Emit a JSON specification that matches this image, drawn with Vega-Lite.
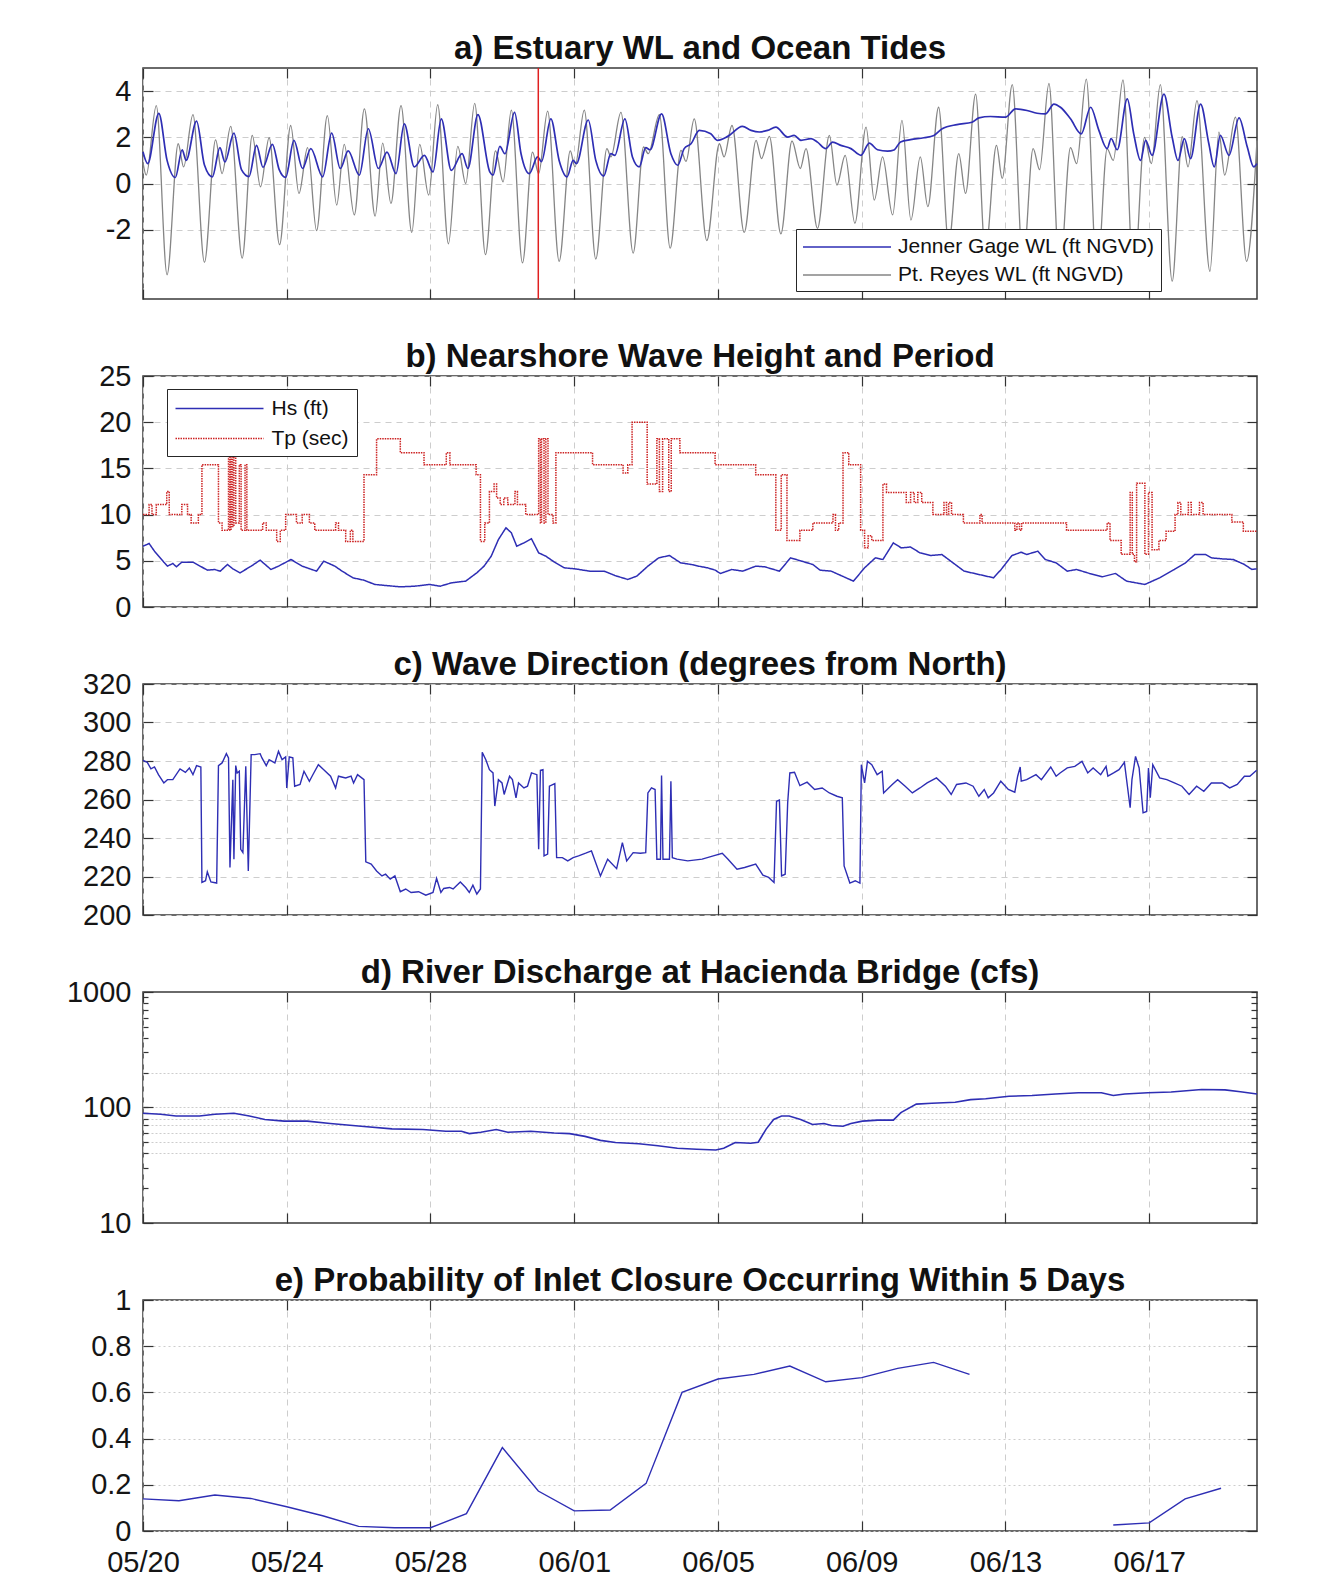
{
"$schema": "https://vega.github.io/schema/vega-lite/v6.json",
"padding": {"left": 64, "top": 32, "right": 20, "bottom": 5},
"background": "white",
"spacing": 22,
"resolve": {"scale": {"color": "independent", "strokeDash": "independent"}, "legend": {"color": "independent", "strokeDash": "independent"}},
"datasets": {
"pr": [
{"day":0.00,"v":0.9},{"day":0.09,"v":0.36},{"day":0.37,"v":3.37},{"day":0.67,"v":-3.95},{"day":0.98,"v":1.72},{"day":1.13,"v":0.72},{"day":1.39,"v":2.98},{"day":1.71,"v":-3.41},{"day":2.02,"v":1.89},{"day":2.20,"v":0.43},{"day":2.44,"v":2.47},{"day":2.76,"v":-3.23},{"day":3.04,"v":2.08},{"day":3.27,"v":-0.14},{"day":3.51,"v":1.98},{"day":3.80,"v":-2.65},{"day":4.11,"v":2.51},{"day":4.34,"v":-0.43},{"day":4.58,"v":1.55},{"day":4.83,"v":-2.04},{"day":5.13,"v":2.94},{"day":5.39,"v":-0.93},{"day":5.60,"v":1.69},{"day":5.88,"v":-1.36},{"day":6.16,"v":3.23},{"day":6.46,"v":-1.41},{"day":6.67,"v":1.75},{"day":6.90,"v":-0.86},{"day":7.18,"v":3.37},{"day":7.48,"v":-2.12},{"day":7.70,"v":1.69},{"day":7.95,"v":-0.50},{"day":8.20,"v":3.41},{"day":8.50,"v":-2.61},{"day":8.76,"v":1.61},{"day":8.98,"v":0.0},{"day":9.23,"v":3.47},{"day":9.53,"v":-3.08},{"day":9.81,"v":1.41},{"day":10.02,"v":0.07},{"day":10.25,"v":3.18},{"day":10.56,"v":-3.44},{"day":10.84,"v":1.36},{"day":11.01,"v":0.43},{"day":11.26,"v":3.13},{"day":11.58,"v":-3.37},{"day":11.89,"v":1.41},{"day":12.02,"v":0.72},{"day":12.28,"v":3.18},{"day":12.60,"v":-3.27},{"day":12.91,"v":1.51},{"day":13.02,"v":1.15},{"day":13.30,"v":3.08},{"day":13.64,"v":-3.01},{"day":13.93,"v":1.58},{"day":14.06,"v":1.29},{"day":14.37,"v":2.98},{"day":14.67,"v":-2.80},{"day":14.97,"v":1.43},{"day":15.11,"v":0.96},{"day":15.34,"v":2.80},{"day":15.69,"v":-2.47},{"day":16.04,"v":1.72},{"day":16.17,"v":1.15},{"day":16.39,"v":2.51},{"day":16.73,"v":-2.12},{"day":17.06,"v":1.87},{"day":17.21,"v":1.08},{"day":17.43,"v":2.04},{"day":17.75,"v":-2.18},{"day":18.06,"v":1.84},{"day":18.29,"v":0.65},{"day":18.45,"v":1.51},{"day":18.77,"v":-1.94},{"day":19.10,"v":2.08},{"day":19.31,"v":-0.07},{"day":19.54,"v":1.22},{"day":19.81,"v":-1.72},{"day":20.12,"v":2.44},{"day":20.35,"v":-0.72},{"day":20.58,"v":1.15},{"day":20.86,"v":-1.36},{"day":21.12,"v":2.73},{"day":21.37,"v":-1.58},{"day":21.63,"v":1.15},{"day":21.84,"v":-1.0},{"day":22.14,"v":3.30},{"day":22.42,"v":-2.6},{"day":22.70,"v":1.29},{"day":22.89,"v":-0.43},{"day":23.17,"v":3.87},{"day":23.44,"v":-3.0},{"day":23.75,"v":1.65},{"day":23.91,"v":0.22},{"day":24.19,"v":4.28},{"day":24.49,"v":-3.5},{"day":24.77,"v":1.51},{"day":24.95,"v":0.6},{"day":25.21,"v":4.33},{"day":25.51,"v":-3.9},{"day":25.81,"v":1.55},{"day":25.98,"v":0.86},{"day":26.25,"v":4.52},{"day":26.55,"v":-4.1},{"day":26.83,"v":1.5},{"day":27.00,"v":1.0},{"day":27.27,"v":4.48},{"day":27.57,"v":-4.3},{"day":27.87,"v":2.0},{"day":28.06,"v":0.86},{"day":28.31,"v":4.28},{"day":28.64,"v":-4.23},{"day":28.92,"v":2.03},{"day":29.08,"v":0.72},{"day":29.33,"v":3.59},{"day":29.69,"v":-3.80},{"day":29.94,"v":2.22},{"day":30.10,"v":0.36},{"day":30.40,"v":2.87},{"day":30.71,"v":-3.37},{"day":31.00,"v":1.86}
],
"jg": [
{"day":0.00,"v":1.36},{"day":0.13,"v":0.86},{"day":0.44,"v":3.04},{"day":0.67,"v":1.0},{"day":0.90,"v":0.26},{"day":1.09,"v":1.46},{"day":1.20,"v":1.0},{"day":1.49,"v":2.70},{"day":1.71,"v":0.8},{"day":1.93,"v":0.29},{"day":2.14,"v":1.55},{"day":2.28,"v":0.93},{"day":2.53,"v":2.18},{"day":2.74,"v":0.6},{"day":2.95,"v":0.3},{"day":3.16,"v":1.65},{"day":3.34,"v":0.7},{"day":3.60,"v":1.69},{"day":3.79,"v":0.6},{"day":3.97,"v":0.26},{"day":4.20,"v":1.87},{"day":4.44,"v":0.65},{"day":4.67,"v":1.51},{"day":5.00,"v":0.29},{"day":5.25,"v":2.18},{"day":5.49,"v":0.65},{"day":5.71,"v":1.41},{"day":6.02,"v":0.36},{"day":6.27,"v":2.37},{"day":6.55,"v":0.65},{"day":6.79,"v":1.36},{"day":7.04,"v":0.43},{"day":7.27,"v":2.58},{"day":7.55,"v":0.72},{"day":7.83,"v":1.22},{"day":8.07,"v":0.5},{"day":8.30,"v":2.80},{"day":8.58,"v":0.57},{"day":8.88,"v":1.29},{"day":9.04,"v":0.65},{"day":9.32,"v":2.98},{"day":9.65,"v":0.5},{"day":9.74,"v":0.36},{"day":9.93,"v":1.61},{"day":10.07,"v":1.29},{"day":10.34,"v":3.08},{"day":10.52,"v":1.29},{"day":10.75,"v":0.43},{"day":10.98,"v":1.15},{"day":11.09,"v":0.95},{"day":11.35,"v":2.80},{"day":11.58,"v":1.0},{"day":11.80,"v":0.29},{"day":11.97,"v":1.0},{"day":12.06,"v":0.86},{"day":12.39,"v":2.75},{"day":12.60,"v":1.0},{"day":12.82,"v":0.32},{"day":13.02,"v":1.29},{"day":13.13,"v":1.22},{"day":13.41,"v":2.80},{"day":13.62,"v":1.15},{"day":13.81,"v":0.72},{"day":13.99,"v":1.55},{"day":14.11,"v":1.46},{"day":14.43,"v":3.01},{"day":14.69,"v":1.29},{"day":14.88,"v":0.79},{"day":15.06,"v":1.51},{"day":15.25,"v":1.72},{"day":15.48,"v":2.30},{"day":15.80,"v":2.15},{"day":15.99,"v":1.87},{"day":16.27,"v":2.04},{"day":16.68,"v":2.47},{"day":16.92,"v":2.30},{"day":17.15,"v":2.23},{"day":17.38,"v":2.30},{"day":17.61,"v":2.44},{"day":17.94,"v":2.01},{"day":18.12,"v":2.08},{"day":18.31,"v":1.87},{"day":18.59,"v":1.94},{"day":18.77,"v":1.79},{"day":19.00,"v":1.51},{"day":19.19,"v":1.79},{"day":19.42,"v":1.65},{"day":19.70,"v":1.51},{"day":19.98,"v":1.22},{"day":20.21,"v":1.75},{"day":20.44,"v":1.46},{"day":20.72,"v":1.40},{"day":20.90,"v":1.45},{"day":21.08,"v":1.80},{"day":21.36,"v":1.90},{"day":21.73,"v":1.98},{"day":22.01,"v":2.08},{"day":22.24,"v":2.37},{"day":22.65,"v":2.55},{"day":23.07,"v":2.65},{"day":23.26,"v":2.84},{"day":23.58,"v":2.90},{"day":24.00,"v":2.87},{"day":24.28,"v":3.23},{"day":24.60,"v":3.16},{"day":24.88,"v":3.04},{"day":25.11,"v":3.01},{"day":25.35,"v":3.44},{"day":25.53,"v":3.30},{"day":25.81,"v":2.80},{"day":26.11,"v":2.15},{"day":26.37,"v":3.30},{"day":26.60,"v":2.30},{"day":26.83,"v":1.51},{"day":26.94,"v":1.94},{"day":27.11,"v":1.46},{"day":27.39,"v":3.66},{"day":27.57,"v":2.15},{"day":27.76,"v":1.0},{"day":27.90,"v":1.87},{"day":28.08,"v":1.22},{"day":28.41,"v":3.87},{"day":28.64,"v":2.0},{"day":28.80,"v":1.0},{"day":28.98,"v":1.94},{"day":29.15,"v":1.08},{"day":29.43,"v":3.44},{"day":29.66,"v":1.72},{"day":29.81,"v":0.72},{"day":29.98,"v":2.08},{"day":30.22,"v":1.22},{"day":30.50,"v":2.84},{"day":30.73,"v":1.58},{"day":30.91,"v":0.72},{"day":31.00,"v":0.86}
],
"hs": [
{"day":0,"v":6.58},{"day":0.17,"v":6.87},{"day":0.32,"v":6.04},{"day":0.58,"v":4.85},{"day":0.68,"v":4.42},{"day":0.83,"v":4.71},{"day":0.93,"v":4.35},{"day":1.08,"v":4.85},{"day":1.39,"v":4.85},{"day":1.79,"v":3.99},{"day":1.99,"v":4.06},{"day":2.15,"v":3.88},{"day":2.35,"v":4.60},{"day":2.50,"v":4.13},{"day":2.70,"v":3.70},{"day":3.01,"v":4.42},{"day":3.26,"v":5.07},{"day":3.56,"v":4.06},{"day":3.77,"v":4.42},{"day":4.12,"v":5.14},{"day":4.43,"v":4.42},{"day":4.83,"v":3.88},{"day":5.03,"v":4.96},{"day":5.34,"v":4.42},{"day":5.54,"v":3.88},{"day":5.84,"v":3.16},{"day":6.15,"v":2.90},{"day":6.45,"v":2.44},{"day":6.75,"v":2.33},{"day":7.16,"v":2.18},{"day":7.56,"v":2.25},{"day":7.97,"v":2.44},{"day":8.27,"v":2.25},{"day":8.58,"v":2.61},{"day":8.98,"v":2.80},{"day":9.29,"v":3.70},{"day":9.49,"v":4.42},{"day":9.69,"v":5.50},{"day":9.89,"v":7.30},{"day":10.10,"v":8.57},{"day":10.25,"v":8.03},{"day":10.40,"v":6.58},{"day":10.60,"v":6.94},{"day":10.81,"v":7.38},{"day":11.01,"v":5.86},{"day":11.21,"v":5.50},{"day":11.41,"v":4.96},{"day":11.72,"v":4.24},{"day":12.02,"v":4.13},{"day":12.43,"v":3.88},{"day":12.83,"v":3.88},{"day":13.13,"v":3.41},{"day":13.49,"v":2.98},{"day":13.74,"v":3.34},{"day":14.05,"v":4.42},{"day":14.35,"v":5.32},{"day":14.65,"v":5.57},{"day":14.96,"v":4.78},{"day":15.26,"v":4.60},{"day":15.46,"v":4.42},{"day":15.71,"v":4.24},{"day":15.92,"v":3.99},{"day":16.07,"v":3.63},{"day":16.38,"v":4.06},{"day":16.69,"v":3.88},{"day":17.05,"v":4.42},{"day":17.30,"v":4.35},{"day":17.71,"v":3.88},{"day":18.02,"v":5.32},{"day":18.33,"v":4.96},{"day":18.64,"v":4.60},{"day":18.84,"v":3.99},{"day":19.15,"v":3.88},{"day":19.46,"v":3.34},{"day":19.77,"v":2.80},{"day":20.08,"v":4.24},{"day":20.38,"v":5.32},{"day":20.59,"v":5.14},{"day":20.88,"v":6.94},{"day":21.10,"v":6.40},{"day":21.36,"v":6.49},{"day":21.62,"v":5.86},{"day":21.92,"v":5.57},{"day":22.23,"v":5.68},{"day":22.54,"v":4.78},{"day":22.85,"v":3.88},{"day":23.26,"v":3.52},{"day":23.67,"v":3.16},{"day":23.88,"v":4.06},{"day":24.18,"v":5.57},{"day":24.44,"v":5.93},{"day":24.59,"v":5.68},{"day":24.90,"v":6.04},{"day":25.11,"v":5.14},{"day":25.41,"v":4.78},{"day":25.72,"v":3.88},{"day":25.98,"v":4.06},{"day":26.34,"v":3.63},{"day":26.70,"v":3.27},{"day":27.06,"v":3.63},{"day":27.37,"v":2.80},{"day":27.88,"v":2.44},{"day":28.29,"v":3.16},{"day":28.70,"v":4.06},{"day":29.01,"v":4.78},{"day":29.27,"v":5.68},{"day":29.57,"v":5.68},{"day":29.73,"v":5.32},{"day":30.03,"v":5.21},{"day":30.34,"v":5.14},{"day":30.65,"v":4.60},{"day":30.86,"v":4.06},{"day":30.99,"v":4.13}
],
"tp": [
{"day":0.00,"v":10.0},{"day":0.17,"v":11.1},{"day":0.25,"v":10.0},{"day":0.37,"v":11.1},{"day":0.66,"v":12.5},{"day":0.73,"v":10.0},{"day":1.08,"v":11.1},{"day":1.24,"v":10.0},{"day":1.34,"v":9.1},{"day":1.54,"v":10.0},{"day":1.64,"v":15.4},{"day":2.10,"v":9.1},{"day":2.20,"v":8.3},{"day":2.38,"v":16.7},{"day":2.42,"v":8.3},{"day":2.45,"v":18.2},{"day":2.49,"v":8.7},{"day":2.53,"v":16.7},{"day":2.58,"v":9.1},{"day":2.68,"v":15.4},{"day":2.73,"v":8.3},{"day":2.84,"v":15.4},{"day":2.89,"v":8.3},{"day":3.33,"v":9.1},{"day":3.43,"v":8.3},{"day":3.72,"v":7.1},{"day":3.82,"v":8.3},{"day":3.97,"v":10.0},{"day":4.27,"v":9.1},{"day":4.43,"v":10.0},{"day":4.63,"v":9.1},{"day":4.78,"v":8.3},{"day":5.36,"v":9.1},{"day":5.44,"v":8.3},{"day":5.64,"v":7.1},{"day":5.77,"v":8.3},{"day":5.84,"v":7.1},{"day":6.15,"v":14.3},{"day":6.50,"v":18.2},{"day":7.16,"v":16.7},{"day":7.82,"v":15.4},{"day":8.44,"v":16.7},{"day":8.54,"v":15.4},{"day":9.27,"v":14.3},{"day":9.39,"v":7.1},{"day":9.51,"v":9.1},{"day":9.64,"v":12.5},{"day":9.77,"v":13.3},{"day":9.84,"v":11.8},{"day":9.94,"v":11.1},{"day":10.04,"v":11.8},{"day":10.15,"v":11.1},{"day":10.35,"v":12.5},{"day":10.42,"v":11.1},{"day":10.65,"v":10.0},{"day":11.01,"v":18.2},{"day":11.06,"v":9.1},{"day":11.09,"v":18.2},{"day":11.16,"v":9.1},{"day":11.21,"v":18.2},{"day":11.27,"v":10.0},{"day":11.41,"v":9.1},{"day":11.49,"v":16.7},{"day":12.51,"v":15.4},{"day":13.36,"v":14.5},{"day":13.49,"v":15.4},{"day":13.61,"v":20.0},{"day":14.03,"v":13.3},{"day":14.30,"v":18.2},{"day":14.37,"v":12.5},{"day":14.46,"v":18.2},{"day":14.63,"v":12.5},{"day":14.70,"v":18.2},{"day":14.94,"v":16.7},{"day":15.92,"v":15.4},{"day":17.05,"v":14.3},{"day":17.61,"v":8.3},{"day":17.76,"v":14.3},{"day":17.92,"v":7.2},{"day":18.28,"v":8.3},{"day":18.64,"v":9.1},{"day":19.20,"v":10.0},{"day":19.27,"v":8.3},{"day":19.36,"v":9.1},{"day":19.48,"v":16.7},{"day":19.64,"v":15.4},{"day":19.97,"v":8.3},{"day":20.08,"v":6.4},{"day":20.18,"v":7.7},{"day":20.28,"v":7.2},{"day":20.59,"v":13.3},{"day":20.69,"v":12.4},{"day":21.24,"v":11.3},{"day":21.36,"v":12.4},{"day":21.46,"v":11.3},{"day":21.56,"v":12.4},{"day":21.67,"v":11.3},{"day":21.98,"v":10.0},{"day":22.29,"v":11.3},{"day":22.36,"v":10.0},{"day":22.42,"v":11.3},{"day":22.50,"v":10.0},{"day":22.83,"v":9.1},{"day":23.29,"v":10.0},{"day":23.35,"v":9.1},{"day":24.26,"v":8.3},{"day":24.32,"v":9.1},{"day":24.39,"v":8.3},{"day":24.45,"v":9.1},{"day":25.70,"v":8.3},{"day":26.83,"v":9.1},{"day":26.91,"v":7.2},{"day":27.22,"v":5.7},{"day":27.47,"v":12.4},{"day":27.53,"v":5.7},{"day":27.59,"v":4.9},{"day":27.65,"v":13.4},{"day":27.88,"v":5.7},{"day":27.98,"v":12.4},{"day":28.08,"v":6.2},{"day":28.27,"v":7.2},{"day":28.47,"v":8.2},{"day":28.72,"v":10.0},{"day":28.80,"v":11.3},{"day":28.88,"v":10.0},{"day":29.09,"v":11.3},{"day":29.17,"v":10.0},{"day":29.40,"v":11.3},{"day":29.50,"v":10.0},{"day":30.30,"v":9.2},{"day":30.62,"v":8.2},{"day":31.00,"v":8.2}
],
"wd": [
{"day":0.00,"v":280.3},{"day":0.12,"v":279.3},{"day":0.22,"v":275.9},{"day":0.32,"v":276.9},{"day":0.43,"v":272.9},{"day":0.58,"v":268.6},{"day":0.68,"v":270.3},{"day":0.83,"v":270.3},{"day":1.03,"v":275.9},{"day":1.18,"v":274.1},{"day":1.29,"v":276.4},{"day":1.39,"v":272.9},{"day":1.49,"v":277.6},{"day":1.61,"v":276.9},{"day":1.64,"v":216.9},{"day":1.74,"v":217.8},{"day":1.79,"v":222.4},{"day":1.89,"v":217.2},{"day":2.05,"v":216.6},{"day":2.10,"v":277.6},{"day":2.20,"v":279.0},{"day":2.32,"v":283.8},{"day":2.38,"v":281.6},{"day":2.42,"v":224.7},{"day":2.50,"v":270.3},{"day":2.53,"v":229.0},{"day":2.58,"v":277.6},{"day":2.62,"v":273.8},{"day":2.68,"v":274.7},{"day":2.72,"v":234.1},{"day":2.78,"v":232.4},{"day":2.86,"v":277.2},{"day":2.93,"v":222.9},{"day":3.01,"v":283.3},{"day":3.11,"v":283.3},{"day":3.26,"v":283.8},{"day":3.31,"v":281.6},{"day":3.43,"v":277.6},{"day":3.51,"v":280.7},{"day":3.67,"v":279.0},{"day":3.77,"v":285.0},{"day":3.87,"v":280.7},{"day":3.97,"v":282.1},{"day":4.00,"v":266.0},{"day":4.07,"v":282.1},{"day":4.17,"v":281.6},{"day":4.22,"v":266.9},{"day":4.37,"v":267.8},{"day":4.48,"v":274.7},{"day":4.63,"v":269.5},{"day":4.73,"v":273.0},{"day":4.88,"v":278.1},{"day":5.03,"v":275.5},{"day":5.22,"v":272.1},{"day":5.36,"v":266.0},{"day":5.44,"v":272.1},{"day":5.64,"v":271.2},{"day":5.79,"v":272.1},{"day":5.86,"v":268.6},{"day":5.97,"v":272.9},{"day":6.15,"v":270.3},{"day":6.20,"v":227.6},{"day":6.35,"v":226.4},{"day":6.50,"v":222.9},{"day":6.65,"v":220.3},{"day":6.75,"v":221.2},{"day":6.88,"v":218.6},{"day":7.01,"v":220.3},{"day":7.16,"v":212.1},{"day":7.31,"v":213.5},{"day":7.46,"v":211.7},{"day":7.67,"v":212.1},{"day":7.87,"v":210.3},{"day":8.07,"v":211.7},{"day":8.17,"v":219.0},{"day":8.29,"v":211.7},{"day":8.37,"v":213.8},{"day":8.53,"v":214.3},{"day":8.63,"v":213.5},{"day":8.83,"v":217.2},{"day":8.98,"v":214.3},{"day":9.08,"v":211.7},{"day":9.18,"v":215.5},{"day":9.29,"v":210.9},{"day":9.39,"v":213.5},{"day":9.44,"v":284.5},{"day":9.54,"v":280.7},{"day":9.64,"v":275.5},{"day":9.74,"v":273.8},{"day":9.79,"v":256.6},{"day":9.89,"v":270.3},{"day":9.99,"v":268.6},{"day":10.05,"v":262.6},{"day":10.20,"v":272.1},{"day":10.28,"v":270.3},{"day":10.38,"v":260.9},{"day":10.45,"v":268.6},{"day":10.60,"v":266.0},{"day":10.70,"v":266.9},{"day":10.81,"v":273.8},{"day":10.96,"v":272.9},{"day":11.01,"v":234.1},{"day":11.06,"v":275.2},{"day":11.13,"v":275.5},{"day":11.16,"v":230.7},{"day":11.26,"v":231.6},{"day":11.31,"v":266.9},{"day":11.46,"v":268.3},{"day":11.51,"v":229.8},{"day":11.67,"v":229.8},{"day":11.82,"v":228.1},{"day":11.97,"v":229.8},{"day":12.12,"v":230.7},{"day":12.32,"v":232.1},{"day":12.48,"v":233.3},{"day":12.58,"v":228.1},{"day":12.73,"v":220.3},{"day":12.93,"v":229.0},{"day":13.18,"v":224.1},{"day":13.34,"v":237.6},{"day":13.46,"v":228.1},{"day":13.64,"v":232.4},{"day":13.84,"v":232.1},{"day":13.99,"v":232.4},{"day":14.05,"v":263.4},{"day":14.15,"v":266.0},{"day":14.25,"v":265.2},{"day":14.30,"v":229.0},{"day":14.40,"v":229.0},{"day":14.43,"v":272.4},{"day":14.47,"v":229.0},{"day":14.65,"v":229.0},{"day":14.69,"v":269.5},{"day":14.73,"v":229.8},{"day":14.86,"v":229.0},{"day":15.16,"v":228.1},{"day":15.56,"v":229.0},{"day":15.87,"v":230.7},{"day":16.12,"v":232.1},{"day":16.28,"v":229.0},{"day":16.53,"v":223.8},{"day":16.74,"v":224.7},{"day":17.05,"v":226.4},{"day":17.25,"v":220.7},{"day":17.41,"v":219.5},{"day":17.56,"v":216.9},{"day":17.63,"v":259.1},{"day":17.71,"v":259.7},{"day":17.77,"v":220.3},{"day":17.87,"v":221.2},{"day":17.94,"v":258.3},{"day":18.00,"v":273.8},{"day":18.13,"v":274.1},{"day":18.28,"v":267.2},{"day":18.48,"v":269.0},{"day":18.69,"v":265.2},{"day":18.90,"v":266.0},{"day":19.10,"v":263.4},{"day":19.31,"v":261.7},{"day":19.46,"v":260.9},{"day":19.51,"v":225.5},{"day":19.67,"v":216.6},{"day":19.82,"v":217.8},{"day":19.95,"v":216.6},{"day":19.99,"v":278.1},{"day":20.08,"v":268.6},{"day":20.16,"v":279.8},{"day":20.28,"v":278.1},{"day":20.43,"v":272.9},{"day":20.57,"v":274.7},{"day":20.61,"v":263.4},{"day":20.85,"v":267.8},{"day":21.00,"v":270.3},{"day":21.21,"v":266.9},{"day":21.41,"v":263.4},{"day":21.62,"v":266.0},{"day":21.82,"v":268.6},{"day":22.08,"v":271.2},{"day":22.33,"v":266.9},{"day":22.49,"v":262.6},{"day":22.64,"v":267.8},{"day":22.90,"v":268.6},{"day":23.10,"v":266.9},{"day":23.26,"v":261.7},{"day":23.41,"v":265.2},{"day":23.52,"v":260.9},{"day":23.67,"v":263.4},{"day":23.87,"v":269.5},{"day":24.08,"v":265.2},{"day":24.26,"v":263.8},{"day":24.34,"v":272.1},{"day":24.41,"v":276.9},{"day":24.44,"v":269.5},{"day":24.59,"v":270.3},{"day":24.85,"v":272.9},{"day":25.00,"v":270.3},{"day":25.26,"v":276.9},{"day":25.41,"v":272.1},{"day":25.52,"v":273.8},{"day":25.72,"v":276.4},{"day":25.93,"v":277.2},{"day":26.13,"v":279.8},{"day":26.29,"v":273.8},{"day":26.44,"v":276.4},{"day":26.65,"v":272.9},{"day":26.80,"v":277.2},{"day":26.85,"v":272.1},{"day":27.01,"v":273.8},{"day":27.16,"v":275.5},{"day":27.31,"v":279.3},{"day":27.47,"v":255.7},{"day":27.52,"v":270.3},{"day":27.62,"v":282.4},{"day":27.72,"v":276.4},{"day":27.83,"v":253.1},{"day":27.93,"v":253.8},{"day":27.98,"v":276.4},{"day":28.03,"v":260.9},{"day":28.10,"v":278.1},{"day":28.29,"v":271.2},{"day":28.49,"v":270.3},{"day":28.70,"v":268.6},{"day":28.91,"v":266.9},{"day":29.11,"v":262.6},{"day":29.32,"v":266.9},{"day":29.52,"v":264.3},{"day":29.73,"v":268.6},{"day":30.03,"v":268.6},{"day":30.24,"v":266.0},{"day":30.45,"v":267.8},{"day":30.65,"v":272.1},{"day":30.80,"v":272.1},{"day":30.99,"v":275.2}
],
"q": [
{"day":0,"v":89.1},{"day":0.49,"v":87.4},{"day":0.92,"v":84.4},{"day":1.57,"v":84.4},{"day":2.00,"v":87.4},{"day":2.53,"v":89.1},{"day":2.96,"v":84.4},{"day":3.39,"v":78.8},{"day":3.93,"v":76.2},{"day":4.57,"v":76.2},{"day":5.21,"v":72.7},{"day":6.07,"v":68.9},{"day":6.93,"v":65.3},{"day":7.79,"v":64.4},{"day":8.43,"v":62.3},{"day":8.86,"v":62.3},{"day":9.08,"v":59.4},{"day":9.40,"v":61.0},{"day":9.83,"v":64.4},{"day":10.15,"v":61.0},{"day":10.79,"v":62.3},{"day":11.44,"v":60.2},{"day":11.87,"v":59.4},{"day":12.30,"v":56.2},{"day":12.73,"v":51.9},{"day":13.15,"v":49.8},{"day":13.80,"v":48.5},{"day":14.33,"v":46.6},{"day":14.87,"v":44.4},{"day":15.41,"v":43.5},{"day":15.94,"v":42.9},{"day":16.16,"v":44.4},{"day":16.48,"v":49.8},{"day":16.91,"v":49.1},{"day":17.12,"v":50.0},{"day":17.34,"v":65.0},{"day":17.55,"v":78.8},{"day":17.77,"v":84.4},{"day":17.98,"v":84.4},{"day":18.30,"v":78.8},{"day":18.63,"v":71.2},{"day":18.95,"v":72.7},{"day":19.16,"v":69.8},{"day":19.48,"v":68.9},{"day":19.70,"v":72.7},{"day":20.02,"v":76.2},{"day":20.45,"v":77.8},{"day":20.88,"v":77.8},{"day":21.09,"v":90.4},{"day":21.52,"v":107},{"day":21.95,"v":109},{"day":22.60,"v":111},{"day":23.03,"v":117},{"day":23.45,"v":119},{"day":24.10,"v":125},{"day":24.74,"v":127},{"day":25.39,"v":131},{"day":26.03,"v":134},{"day":26.67,"v":134},{"day":27.00,"v":127},{"day":27.32,"v":131},{"day":27.96,"v":134},{"day":28.61,"v":136},{"day":29.46,"v":143},{"day":30.11,"v":142},{"day":30.54,"v":137},{"day":31.00,"v":131}
],
"p": [
{"day":0,"v":0.139,"seg":"a"},{"day":1,"v":0.131,"seg":"a"},{"day":2,"v":0.156,"seg":"a"},{"day":3,"v":0.141,"seg":"a"},{"day":4,"v":0.105,"seg":"a"},{"day":5,"v":0.066,"seg":"a"},{"day":6,"v":0.020,"seg":"a"},{"day":7,"v":0.014,"seg":"a"},{"day":8,"v":0.014,"seg":"a"},{"day":9,"v":0.075,"seg":"a"},{"day":10,"v":0.361,"seg":"a"},{"day":11,"v":0.173,"seg":"a"},{"day":12,"v":0.087,"seg":"a"},{"day":13,"v":0.091,"seg":"a"},{"day":14,"v":0.206,"seg":"a"},{"day":15,"v":0.600,"seg":"a"},{"day":16,"v":0.658,"seg":"a"},{"day":17,"v":0.678,"seg":"a"},{"day":18,"v":0.714,"seg":"a"},{"day":19,"v":0.646,"seg":"a"},{"day":20,"v":0.664,"seg":"a"},{"day":21,"v":0.704,"seg":"a"},{"day":22,"v":0.730,"seg":"a"},{"day":23,"v":0.678,"seg":"a"},
{"day":27,"v":0.026,"seg":"b"},{"day":28,"v":0.035,"seg":"b"},{"day":29,"v":0.139,"seg":"b"},{"day":30,"v":0.185,"seg":"b"}
]
},
"vconcat": [
{
"title": {"text": "a) Estuary WL and Ocean Tides", "offset": 1},
"width": 1114, "height": 231,
"layer": [
{"data": {"name": "pr"}, "mark": {"type": "line", "interpolate": "monotone", "strokeWidth": 1.3},
 "encoding": {
  "x": {"field": "day", "type": "quantitative", "scale": {"domain": [0, 31], "nice": false, "zero": false}, "axis": {"orient": "bottom", "values": [0,4,8,12,16,20,24,28], "labels": false, "grid": true, "minExtent": 18, "title": null}},
  "y": {"field": "v", "type": "quantitative", "scale": {"domain": [-5, 5], "nice": false, "zero": false}, "axis": {"orient": "left", "values": [-2,0,2,4], "labelExpr": "toString(datum.value)", "grid": true, "minExtent": 78, "maxExtent": 78, "title": null}},
  "color": {"datum": "Pt. Reyes WL (ft NGVD)", "type": "nominal", "scale": {"domain": ["Jenner Gage WL (ft NGVD)", "Pt. Reyes WL (ft NGVD)"], "range": ["#2e2eb4", "#858585"]},
   "legend": {"title": null, "orient": "none", "legendX": 653, "legendY": 161, "symbolType": "M-1,0H7", "symbolSize": 484, "symbolStrokeWidth": 1.6, "labelFontSize": 21, "labelLimit": 400, "labelOffset": 72, "rowPadding": 6, "padding": 6, "strokeColor": "#262626", "fillColor": "white"}}
 }},
{"data": {"name": "jg"}, "mark": {"type": "line", "interpolate": "monotone", "strokeWidth": 1.7},
 "encoding": {
  "x": {"field": "day", "type": "quantitative", "scale": {"domain": [0, 31], "nice": false, "zero": false}, "axis": {"orient": "top", "values": [0,4,8,12,16,20,24,28], "labels": false, "grid": false, "title": null}},
  "y": {"field": "v", "type": "quantitative", "scale": {"domain": [-5, 5], "nice": false, "zero": false}, "axis": {"orient": "right", "values": [-2,0,2,4], "labels": false, "grid": false, "title": null}},
  "color": {"datum": "Jenner Gage WL (ft NGVD)", "type": "nominal"}
 }},
{"data": {"values": [{"day": 11}]}, "mark": {"type": "rule", "color": "#e02020", "strokeWidth": 1.5},
 "encoding": {"x": {"field": "day", "type": "quantitative", "scale": {"domain": [0, 31], "nice": false, "zero": false}, "axis": null}}}
],
"resolve": {"axis": {"x": "independent", "y": "independent"}}
},
{
"title": {"text": "b) Nearshore Wave Height and Period", "offset": -12},
"width": 1114, "height": 231,
"layer": [
{"data": {"name": "hs"}, "mark": {"type": "line", "strokeWidth": 1.5},
 "encoding": {
  "x": {"field": "day", "type": "quantitative", "scale": {"domain": [0, 31], "nice": false, "zero": false}, "axis": {"orient": "bottom", "values": [0,4,8,12,16,20,24,28], "labels": false, "grid": true, "minExtent": 18, "title": null}},
  "y": {"field": "v", "type": "quantitative", "scale": {"domain": [0, 25], "nice": false, "zero": false}, "axis": {"orient": "left", "values": [0,5,10,15,20,25], "labelExpr": "toString(datum.value)", "grid": true, "minExtent": 78, "maxExtent": 78, "title": null}},
  "color": {"datum": "Hs (ft)", "type": "nominal", "scale": {"domain": ["Hs (ft)", "Tp (sec)"], "range": ["#2e2eb4", "#cc2222"]},
   "legend": {"title": null, "orient": "none", "legendX": 24, "legendY": 13, "symbolType": "M-1,0H7", "symbolSize": 484, "symbolStrokeWidth": 1.6, "labelFontSize": 21, "labelLimit": 300, "labelOffset": 73, "rowPadding": 8, "padding": 7.5, "strokeColor": "#262626", "fillColor": "white"}},
  "strokeDash": {"datum": "Hs (ft)", "type": "nominal", "scale": {"domain": ["Hs (ft)", "Tp (sec)"], "range": [[1,0],[1.5,1]]},
   "legend": {"title": null, "orient": "none", "legendX": 24, "legendY": 13, "symbolType": "M-1,0H7", "symbolSize": 484, "symbolStrokeWidth": 1.6, "labelFontSize": 21, "labelLimit": 300, "labelOffset": 73, "rowPadding": 8, "padding": 7.5, "strokeColor": "#262626", "fillColor": "white"}}
 }},
{"data": {"name": "tp"}, "mark": {"type": "line", "interpolate": "step-after", "strokeWidth": 1.5},
 "encoding": {
  "x": {"field": "day", "type": "quantitative", "scale": {"domain": [0, 31], "nice": false, "zero": false}, "axis": {"orient": "top", "values": [0,4,8,12,16,20,24,28], "labels": false, "grid": false, "title": null}},
  "y": {"field": "v", "type": "quantitative", "scale": {"domain": [0, 25], "nice": false, "zero": false}, "axis": {"orient": "right", "values": [0,5,10,15,20,25], "labels": false, "grid": false, "title": null}},
  "color": {"datum": "Tp (sec)", "type": "nominal"},
  "strokeDash": {"datum": "Tp (sec)", "type": "nominal"}
 }}
],
"resolve": {"axis": {"x": "independent", "y": "independent"}}
},
{
"title": {"text": "c) Wave Direction (degrees from North)", "offset": -12},
"width": 1114, "height": 231,
"layer": [
{"data": {"name": "wd"}, "mark": {"type": "line", "strokeWidth": 1.4, "color": "#2e2eb4"},
 "encoding": {
  "x": {"field": "day", "type": "quantitative", "scale": {"domain": [0, 31], "nice": false, "zero": false}, "axis": {"orient": "bottom", "values": [0,4,8,12,16,20,24,28], "labels": false, "grid": true, "minExtent": 18, "title": null}},
  "y": {"field": "v", "type": "quantitative", "scale": {"domain": [200, 320], "nice": false, "zero": false}, "axis": {"orient": "left", "values": [200,220,240,260,280,300,320], "labelExpr": "toString(datum.value)", "grid": true, "minExtent": 78, "maxExtent": 78, "title": null}}
 }},
{"data": {"name": "wd"}, "mark": {"type": "line", "opacity": 0},
 "encoding": {
  "x": {"field": "day", "type": "quantitative", "scale": {"domain": [0, 31], "nice": false, "zero": false}, "axis": {"orient": "top", "values": [0,4,8,12,16,20,24,28], "labels": false, "grid": false, "title": null}},
  "y": {"field": "v", "type": "quantitative", "scale": {"domain": [200, 320], "nice": false, "zero": false}, "axis": {"orient": "right", "values": [200,220,240,260,280,300,320], "labels": false, "grid": false, "title": null}}
 }}
],
"resolve": {"axis": {"x": "independent", "y": "independent"}}
},
{
"title": {"text": "d) River Discharge at Hacienda Bridge (cfs)", "offset": -12},
"width": 1114, "height": 231,
"layer": [
{"data": {"name": "q"}, "mark": {"type": "line", "opacity": 0},
 "encoding": {
  "x": {"field": "day", "type": "quantitative", "scale": {"domain": [0, 31], "nice": false, "zero": false}, "axis": null},
  "y": {"field": "v", "type": "quantitative", "scale": {"type": "log", "domain": [10, 1000], "nice": false}, "axis": {"orient": "left", "values": [20,30,40,50,60,70,80,90,100,200,300,400,500,600,700,800,900], "labels": false, "tickSize": -5, "grid": true, "gridDash": [2,2], "gridOpacity": {"condition": {"test": "datum.value >= 40 && datum.value <= 200", "value": 1}, "value": 0}, "title": null}}
 }},
{"data": {"name": "q"}, "mark": {"type": "line", "strokeWidth": 1.6, "color": "#2e2eb4"},
 "encoding": {
  "x": {"field": "day", "type": "quantitative", "scale": {"domain": [0, 31], "nice": false, "zero": false}, "axis": {"orient": "bottom", "values": [0,4,8,12,16,20,24,28], "labels": false, "grid": true, "minExtent": 18, "title": null}},
  "y": {"field": "v", "type": "quantitative", "scale": {"type": "log", "domain": [10, 1000], "nice": false}, "axis": {"orient": "left", "values": [10,100,1000], "labelExpr": "toString(datum.value)", "grid": false, "minExtent": 78, "maxExtent": 78, "title": null}}
 }},
{"data": {"name": "q"}, "mark": {"type": "line", "opacity": 0},
 "encoding": {
  "x": {"field": "day", "type": "quantitative", "scale": {"domain": [0, 31], "nice": false, "zero": false}, "axis": {"orient": "top", "values": [0,4,8,12,16,20,24,28], "labels": false, "grid": false, "title": null}},
  "y": {"field": "v", "type": "quantitative", "scale": {"type": "log", "domain": [10, 1000], "nice": false}, "axis": {"orient": "right", "values": [10,20,30,40,50,60,70,80,90,100,200,300,400,500,600,700,800,900,1000], "labels": false, "tickSize": -6, "grid": false, "title": null}}
 }}
],
"resolve": {"axis": {"x": "independent", "y": "independent"}}
},
{
"title": {"text": "e) Probability of Inlet Closure Occurring Within 5 Days", "offset": -12},
"width": 1114, "height": 231,
"layer": [
{"data": {"name": "p"}, "mark": {"type": "line", "strokeWidth": 1.4, "color": "#2e2eb4"},
 "encoding": {
  "x": {"field": "day", "type": "quantitative", "scale": {"domain": [0, 31], "nice": false, "zero": false}, "axis": {"orient": "bottom", "values": [0,4,8,12,16,20,24,28], "labelExpr": "timeFormat(datetime(2013, 4, 20 + datum.value), '%m/%d')", "labelFlush": false, "labelPadding": 27, "grid": true, "title": null}},
  "y": {"field": "v", "type": "quantitative", "scale": {"domain": [0, 1], "nice": false, "zero": false}, "axis": {"orient": "left", "values": [0,0.2,0.4,0.6,0.8,1], "labelExpr": "toString(datum.value)", "grid": true, "gridDash": [2,3], "minExtent": 78, "maxExtent": 78, "title": null}},
  "detail": {"field": "seg", "type": "nominal"}
 }},
{"data": {"name": "p"}, "mark": {"type": "line", "opacity": 0},
 "encoding": {
  "x": {"field": "day", "type": "quantitative", "scale": {"domain": [0, 31], "nice": false, "zero": false}, "axis": {"orient": "top", "values": [0,4,8,12,16,20,24,28], "labels": false, "grid": false, "title": null}},
  "y": {"field": "v", "type": "quantitative", "scale": {"domain": [0, 1], "nice": false, "zero": false}, "axis": {"orient": "right", "values": [0,0.2,0.4,0.6,0.8,1], "labels": false, "grid": false, "title": null}},
  "detail": {"field": "seg", "type": "nominal"}
 }}
],
"resolve": {"axis": {"x": "independent", "y": "independent"}}
}
],
"config": {
 "font": "Liberation Sans",
 "view": {"stroke": "#3a3a3a", "strokeWidth": 1.5},
 "axis": {"domain": false, "tickColor": "#333333", "tickSize": -10, "tickWidth": 1.2, "labelPadding": 22, "labelFont": "Liberation Sans", "labelFontSize": 29, "labelColor": "#151515", "gridColor": "#cdcdcd", "gridDash": [6,5], "gridWidth": 1},
 "title": {"font": "Liberation Sans", "fontSize": 33, "fontWeight": "bold", "color": "#111111", "offset": 1, "anchor": "middle"},
 "legend": {"labelFont": "Liberation Sans", "labelColor": "#111111"}
}
}
